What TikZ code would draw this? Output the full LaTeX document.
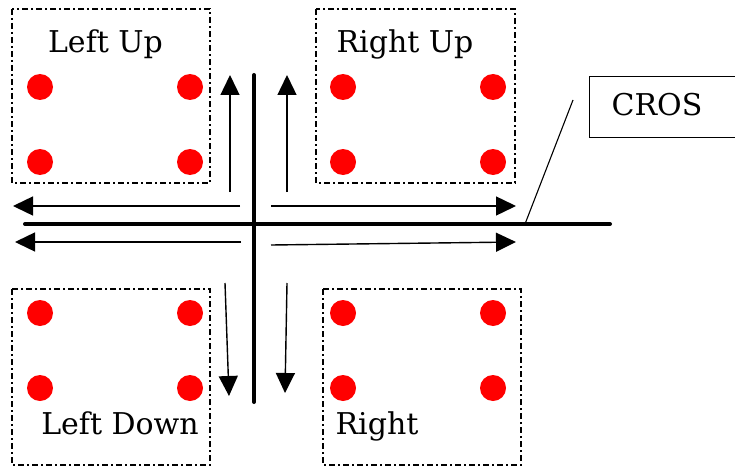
\documentclass[tikz,border=0pt]{standalone}
\usepackage{fontspec}
\setmainfont{DejaVu Serif}
\usetikzlibrary{arrows.meta}
\begin{document}
\begin{tikzpicture}[x=1pt,y=-1pt,
  zone/.style={draw,line width=1.3pt,dash pattern=on 6pt off 3pt on 2pt off 3pt},
  dot/.style={circle,fill=red,inner sep=0pt,minimum size=26pt},
  road/.style={line width=4pt,line cap=round},
  flow/.style={line width=1.4pt,-{Triangle[length=20pt,width=19pt]}},
  lbl/.style={font=\fontsize{30}{34}\selectfont,inner sep=0pt,anchor=base},
  callout/.style={draw,line width=1.1pt}]
\useasboundingbox (0,0) rectangle (735,468);
% zones
\draw[zone] (12,9) rectangle (210,183);
\draw[zone] (316,9) rectangle (515,183);
\draw[zone] (12,289) rectangle (210,465);
\draw[zone] (323,289) rectangle (521,465);
% labels
\node[lbl] (lu) at (105.5,53) {Left Up};
\node[lbl] (ru) at (405,53) {Right Up};
\node[lbl] (ld) at (120,434) {Left Down};
\node[lbl] (rr) at (377,434) {Right};
% dots
\foreach \n/\x/\y in {a1/40/87,a2/190/87,a3/40/162,a4/190/162,
                      b1/343/87,b2/493/87,b3/343/162,b4/493/162,
                      c1/40/313,c2/190/313,c3/40/388,c4/190/388,
                      d1/343/313,d2/493/313,d3/343/388,d4/493/388}
  \node[dot] (\n) at (\x,\y) {};
% roads
\coordinate (vt) at (254,75); \coordinate (vb) at (254,402);
\coordinate (hl) at (25,224); \coordinate (hr) at (610,224);
\draw[road] (vt) -- (vb);
\draw[road] (hl) -- (hr);
% flows
\coordinate (u1s) at (230,192); \coordinate (u1e) at (230,75);
\coordinate (u2s) at (287,192); \coordinate (u2e) at (287,75);
\coordinate (l1s) at (240,206); \coordinate (l1e) at (13,206);
\coordinate (l2s) at (241,242); \coordinate (l2e) at (15,242);
\coordinate (r1s) at (271,206); \coordinate (r1e) at (516,206);
\coordinate (r2s) at (271,245); \coordinate (r2e) at (516,242);
\coordinate (d1s) at (225,283); \coordinate (d1e) at (229,396);
\coordinate (d2s) at (287,283); \coordinate (d2e) at (285,393);
\draw[flow] (u1s) -- (u1e);
\draw[flow] (u2s) -- (u2e);
\draw[flow] (l1s) -- (l1e);
\draw[flow] (l2s) -- (l2e);
\draw[flow] (r1s) -- (r1e);
\draw[flow] (r2s) -- (r2e);
\draw[flow] (d1s) -- (d1e);
\draw[flow] (d2s) -- (d2e);
% callout
\node[callout,minimum width=150pt,minimum height=61pt,anchor=north west,inner sep=0pt] (cbox) at (589,76) {};
\node[lbl] (cros) at (657,115) {CROS};
\coordinate (ct) at (573,100); \coordinate (cb) at (525,224);
\draw[line width=1.1pt] (ct) -- (cb);
\end{tikzpicture}
\end{document}
